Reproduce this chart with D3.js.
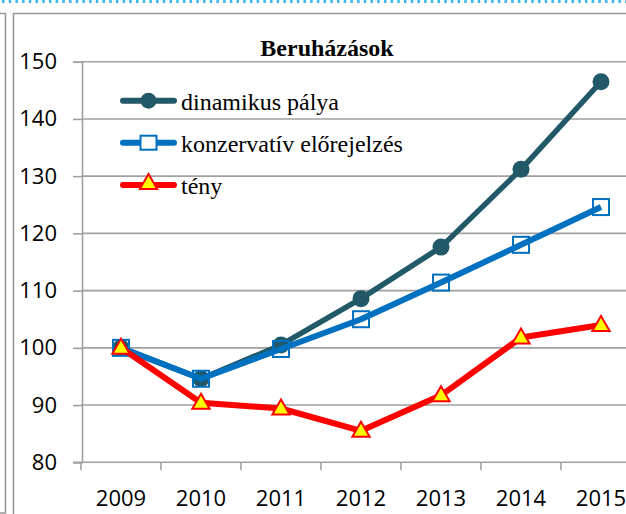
<!DOCTYPE html>
<html>
<head>
<meta charset="utf-8">
<script src="https://cdn.jsdelivr.net/npm/d3@7"></script>
<style>
  body { margin: 0; background: #fff; }
  svg { display: block; }
</style>
</head>
<body>
<div id="chart"></div>
<script>
// chart data
var years = ["2009", "2010", "2011", "2012", "2013", "2014", "2015"];
var dinamikus = [100, 94.6, 100.5, 108.6, 117.6, 131.2, 146.5];
var konzervativ = [100, 94.6, 99.8, 105, 111.4, 118, 124.6];
var teny = [100, 90.4, 89.4, 85.5, 91.7, 101.8, 104];
var yTicks = [80, 90, 100, 110, 120, 130, 140, 150];
var seriesNames = ["dinamikus pálya", "konzervatív előrejelzés", "tény"];

var svgWidth = 626;
var svgHeight = 514;

var svg = d3.select("#chart")
    .append("svg")
    .attr("width", svgWidth)
    .attr("height", svgHeight);

// dotted line at the very top
svg.append("line")
    .attr("x1", 2).attr("x2", svgWidth)
    .attr("y1", 1.5).attr("y2", 1.5)
    .attr("stroke", "#3db8ef")
    .attr("stroke-width", 3)
    .attr("stroke-dasharray", "2.5 4.2");

// frame of the previous chart and of this one
svg.append("path")
    .attr("d", "M0,13.5 H5.5 V513 H0")
    .attr("fill", "none")
    .attr("stroke", "#9a9a9a")
    .attr("stroke-width", 1.6);
svg.append("path")
    .attr("d", "M13.5,514 V13.5 H626")
    .attr("fill", "none")
    .attr("stroke", "#9a9a9a")
    .attr("stroke-width", 1.6);

// scales
var x = d3.scaleBand()
    .domain(years)
    .range([81, 641])
    .padding(0);

var y = d3.scaleLinear()
    .domain([80, 150])
    .range([462.3, 61.7]);

var cx = function (d, i) { return x(years[i]) + x.bandwidth() / 2; };

// gridlines
svg.append("g")
    .selectAll("line")
    .data(yTicks.slice(1))
    .enter()
    .append("line")
    .attr("x1", 82).attr("x2", svgWidth)
    .attr("y1", d => y(d)).attr("y2", d => y(d))
    .attr("stroke", "#a0a0a0")
    .attr("stroke-width", 1.6);

// y axis
var leftAxis = d3.axisLeft(y)
    .tickValues(yTicks)
    .tickSize(9)
    .tickPadding(16)
    .tickFormat(d3.format("d"));

var yAxis = svg.append("g")
    .attr("transform", "translate(82,0)")
    .call(leftAxis);
yAxis.select(".domain").attr("stroke", "#a0a0a0").attr("stroke-width", 1.6);
yAxis.selectAll(".tick line").attr("stroke", "#a0a0a0").attr("stroke-width", 1.6);
yAxis.selectAll(".tick text")
    .attr("fill", "#000")
    .style("font-family", "'Open Sans', sans-serif")
    .style("font-size", "22px");

// x axis (ticks between categories)
svg.append("line")
    .attr("x1", 73).attr("x2", svgWidth)
    .attr("y1", y(80)).attr("y2", y(80))
    .attr("stroke", "#a0a0a0")
    .attr("stroke-width", 1.6);

svg.append("g")
    .selectAll("line")
    .data(years.concat(["end"]))
    .enter()
    .append("line")
    .attr("x1", (d, i) => x.range()[0] + i * x.step())
    .attr("x2", (d, i) => x.range()[0] + i * x.step())
    .attr("y1", y(80)).attr("y2", y(80) + 8)
    .attr("stroke", "#a0a0a0")
    .attr("stroke-width", 1.6);

svg.append("g")
    .selectAll("text")
    .data(years)
    .enter()
    .append("text")
    .attr("x", d => x(d) + x.bandwidth() / 2)
    .attr("y", 506)
    .attr("text-anchor", "middle")
    .style("font-family", "'Open Sans', sans-serif")
    .style("font-size", "22px")
    .text(d => d);

// lines
var line = d3.line()
    .x(cx)
    .y(d => y(d));

var chartGroup = svg.append("g");

// dinamikus pálya
chartGroup.append("path")
    .datum(dinamikus)
    .attr("d", line)
    .attr("fill", "none")
    .attr("stroke", "#215968")
    .attr("stroke-width", 5.5)
    .attr("stroke-linejoin", "round");
chartGroup.selectAll(".dot")
    .data(dinamikus)
    .enter()
    .append("circle")
    .attr("class", "dot")
    .attr("cx", cx)
    .attr("cy", d => y(d))
    .attr("r", 8.5)
    .attr("fill", "#215968");

// konzervatív előrejelzés
chartGroup.append("path")
    .datum(konzervativ)
    .attr("d", line)
    .attr("fill", "none")
    .attr("stroke", "#0070c0")
    .attr("stroke-width", 6)
    .attr("stroke-linejoin", "round");
chartGroup.selectAll(".sq")
    .data(konzervativ)
    .enter()
    .append("rect")
    .attr("class", "sq")
    .attr("x", (d, i) => cx(d, i) - 8)
    .attr("y", d => y(d) - 8)
    .attr("width", 16)
    .attr("height", 16)
    .attr("fill", "none")
    .attr("stroke", "#0070c0")
    .attr("stroke-width", 2);

// tény
var tri = d3.symbol().type(d3.symbolTriangle).size(130);
chartGroup.append("path")
    .datum(teny)
    .attr("d", line)
    .attr("fill", "none")
    .attr("stroke", "#ff0000")
    .attr("stroke-width", 6)
    .attr("stroke-linejoin", "round");
chartGroup.selectAll(".tri")
    .data(teny)
    .enter()
    .append("path")
    .attr("class", "tri")
    .attr("d", tri)
    .attr("transform", (d, i) => `translate(${cx(d, i)}, ${y(d) + 1})`)
    .attr("fill", "#ffff00")
    .attr("stroke", "#ff0000")
    .attr("stroke-width", 2);

// title
svg.append("text")
    .attr("x", 327)
    .attr("y", 56)
    .attr("text-anchor", "middle")
    .style("font-family", "'Liberation Serif', serif")
    .style("font-weight", "bold")
    .style("font-size", "24px")
    .text("Beruházások");

// legend
var legendY = [100.7, 142.7, 185];
var legend = svg.append("g");
legendY.forEach(function (ly, i) {
    var colors = ["#215968", "#0070c0", "#ff0000"];
    legend.append("line")
        .attr("x1", 123).attr("x2", 174)
        .attr("y1", ly).attr("y2", ly)
        .attr("stroke", colors[i])
        .attr("stroke-width", 6)
        .attr("stroke-linecap", "round");
    if (i === 0) {
        legend.append("circle")
            .attr("cx", 148.5).attr("cy", ly).attr("r", 8)
            .attr("fill", colors[i]);
    } else if (i === 1) {
        legend.append("rect")
            .attr("x", 140.5).attr("y", ly - 7).attr("width", 16).attr("height", 14)
            .attr("fill", "#fff")
            .attr("stroke", colors[i])
            .attr("stroke-width", 2);
    } else {
        legend.append("path")
            .attr("d", tri)
            .attr("transform", `translate(148.5, ${ly - 1})`)
            .attr("fill", "#ffff00")
            .attr("stroke", "#ff0000")
            .attr("stroke-width", 2);
    }
    legend.append("text")
        .attr("x", 181)
        .attr("y", ly + 9)
        .style("font-family", "'Liberation Serif', serif")
        .style("font-size", "24px")
        .text(seriesNames[i]);
});
</script>
</body>
</html>
